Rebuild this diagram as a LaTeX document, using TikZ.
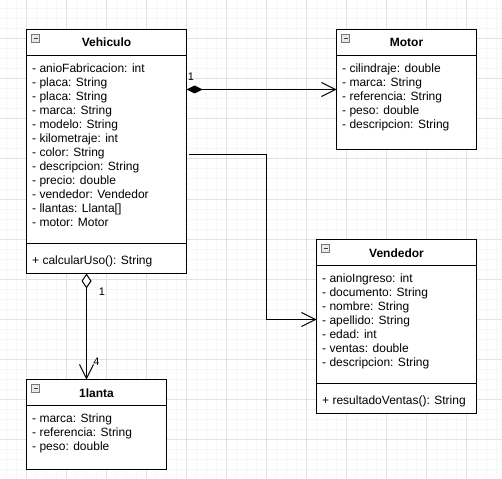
\documentclass[tikz,border=0pt]{standalone}
\usepackage{fontspec}
\setmainfont{Liberation Sans}
\usetikzlibrary{arrows.meta}
\definecolor{gridmin}{RGB}{246,246,246}
\definecolor{gridmaj}{RGB}{226,226,226}
\definecolor{icofill}{RGB}{232,232,232}
\definecolor{icodraw}{RGB}{120,120,120}
\begin{document}
\begin{tikzpicture}[x=1pt,y=-1pt,
  classbox/.style={draw=black,line width=1pt,fill=white,rectangle,inner sep=0pt,outer sep=0pt,anchor=north west},
  sepline/.style={draw=black,line width=1pt},
  txt/.style={anchor=base west,inner sep=0pt,font=\fontsize{12pt}{14pt}\selectfont},
  ttl/.style={anchor=base,inner sep=0pt,font=\fontsize{12pt}{14pt}\selectfont\bfseries},
  lbl/.style={inner sep=0pt,font=\fontsize{11pt}{13pt}\selectfont},
  ico/.style={draw=icodraw,fill=icofill,line width=0.8pt,minimum size=8pt,inner sep=0pt,outer sep=0pt},
  icominus/.style={draw=black!75,line width=1.2pt},
  conn/.style={draw=black,line width=1pt},
  comp/.style={conn,{Diamond[length=16pt,width=8pt,fill=black]}-{Straight Barb[length=14pt,width=14pt]}},
  aggr/.style={conn,{Diamond[length=15pt,width=10pt,fill=white]}-{Straight Barb[length=14pt,width=14pt]}},
  assoc/.style={conn,-{Straight Barb[length=14pt,width=14pt]}}
]
\useasboundingbox (0,0) rectangle (502,478);
\fill[white] (0,0) rectangle (502,478);
% grid
\foreach \x in {6,16,...,496} \draw[gridmin,line width=1pt] (\x,0) -- (\x,478);
\foreach \y in {9,19,...,469} \draw[gridmin,line width=1pt] (0,\y) -- (502,\y);
\foreach \x in {26,66,...,466} \draw[gridmaj,line width=1pt] (\x,0) -- (\x,478);
\foreach \y in {39,79,...,439} \draw[gridmaj,line width=1pt] (0,\y) -- (502,\y);

% ---------- Vehiculo ----------
\node[classbox,minimum width=160pt,minimum height=244pt] (veh) at (26.5,29.5) {};
\draw[sepline] (veh.west |- 0,55.5) -- (veh.east |- 0,55.5);
\draw[sepline] (veh.west |- 0,243.5) -- (veh.east |- 0,243.5);
\node[ico] (vico) at (35.5,38.5) {};
\draw[icominus] ([xshift=2pt]vico.west) -- ([xshift=-2pt]vico.east);
\node[ttl] (vt) at (106.5,46.5) {Vehiculo};
\foreach \t [count=\i from 0] in {{- anioFabricacion: int},{- placa: String},{- placa: String},{- marca: String},{- modelo: String},{- kilometraje: int},{- color: String},{- descripcion: String},{- precio: double},{- vendedor: Vendedor},{- llantas: Llanta[]},{- motor: Motor}}
  \node[txt] (va\i) at (32,{72.5+14*\i}) {\t};
\node[txt] (vm0) at (32,264) {+ calcularUso(): String};

% ---------- Motor ----------
\node[classbox,minimum width=140pt,minimum height=120pt] (mot) at (336.5,29.5) {};
\draw[sepline] (mot.west |- 0,55.5) -- (mot.east |- 0,55.5);
\node[ico] (mico) at (345.5,38.5) {};
\draw[icominus] ([xshift=2pt]mico.west) -- ([xshift=-2pt]mico.east);
\node[ttl] (mt) at (406.5,46.5) {Motor};
\foreach \t [count=\i from 0] in {{- cilindraje: double},{- marca: String},{- referencia: String},{- peso: double},{- descripcion: String}}
  \node[txt] (ma\i) at (342,{72.5+14*\i}) {\t};

% ---------- Vendedor ----------
\node[classbox,minimum width=160pt,minimum height=174pt] (ven) at (316.5,239.5) {};
\draw[sepline] (ven.west |- 0,265.5) -- (ven.east |- 0,265.5);
\draw[sepline] (ven.west |- 0,383.5) -- (ven.east |- 0,383.5);
\node[ico] (eico) at (325.5,248.5) {};
\draw[icominus] ([xshift=2pt]eico.west) -- ([xshift=-2pt]eico.east);
\node[ttl] (et) at (396.5,257) {Vendedor};
\foreach \t [count=\i from 0] in {{- anioIngreso: int},{- documento: String},{- nombre: String},{- apellido: String},{- edad: int},{- ventas: double},{- descripcion: String}}
  \node[txt] (ea\i) at (322,{282.5+14*\i}) {\t};
\node[txt] (em0) at (322,404) {+ resultadoVentas(): String};

% ---------- Llanta ----------
\node[classbox,minimum width=140pt,minimum height=90pt] (lla) at (26.5,379.5) {};
\draw[sepline] (lla.west |- 0,405.5) -- (lla.east |- 0,405.5);
\node[ico] (lico) at (35.5,388.5) {};
\draw[icominus] ([xshift=2pt]lico.west) -- ([xshift=-2pt]lico.east);
\node[ttl] (lt) at (96.5,397) {1lanta};
\foreach \t [count=\i from 0] in {{- marca: String},{- referencia: String},{- peso: double}}
  \node[txt] (la\i) at (32,{422+14*\i}) {\t};

% ---------- connectors ----------
\draw[comp] (veh.east |- 0,89.5) -- (mot.west |- 0,89.5);
\node[lbl] (m1) at (191,77) {1};

\coordinate (s1) at (188.5,154.5);
\coordinate (bend) at (266.5,319.5);
\draw[assoc] (s1) -| (bend) -- (ven.west |- bend);

\draw[aggr] (veh.south -| 86.5,0) -- (lla.north -| 86.5,0);
\node[lbl] (m2) at (102,292) {1};
\node[lbl] (m3) at (96.5,361.5) {4};
\end{tikzpicture}
\end{document}
